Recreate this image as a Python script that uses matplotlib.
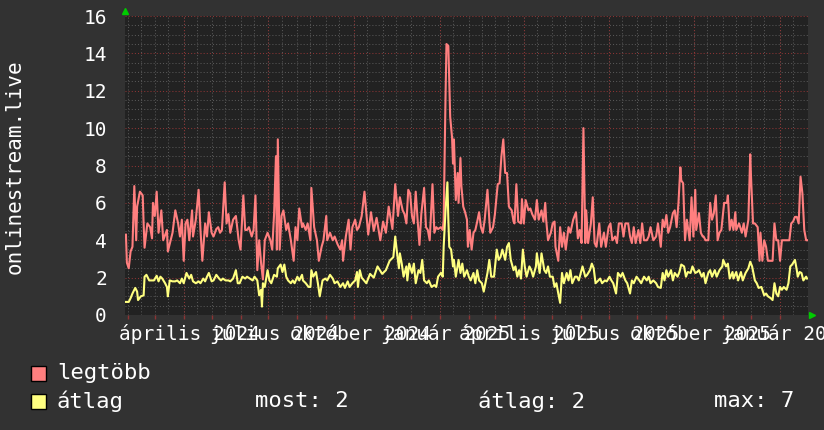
import numpy as np
import pandas as pd
import matplotlib
matplotlib.use("Agg")
import matplotlib.pyplot as plt
import matplotlib.dates as mdates
import matplotlib.transforms as mtransforms
from matplotlib.patches import Rectangle

# ---- data ----
START = "2024-01-29"
SPAN_DAYS = 733

# "legtöbb" (max) series: day offset from START, value
max_days = [1, 2, 4, 6, 8, 10, 12, 13, 16, 19, 20, 21, 24, 27, 29, 30, 32, 34, 36, 39,
            41, 45, 46, 49, 51, 54, 57, 59, 61, 63, 65, 67, 69, 72, 73, 76, 79, 81, 83, 86,
            88, 90, 93, 95, 98, 100, 102, 104, 107, 109, 111, 113, 116, 119, 122, 124, 127, 129, 131, 133,
            136, 138, 140, 142, 144, 146, 148, 150, 153, 156, 158, 160, 162, 163, 164, 166, 168, 170, 173, 175,
            178, 181, 183, 185, 187, 190, 191, 194, 196, 199, 200, 203, 206, 208, 211, 213, 216, 217, 220, 223,
            225, 228, 231, 233, 234, 237, 240, 242, 244, 247, 249, 251, 254, 257, 261, 264, 267, 270, 274, 277,
            280, 283, 287, 290, 293, 295, 298, 300, 302, 304, 306, 308, 310, 312, 314, 316, 318, 321, 323, 325,
            327, 330, 332, 334, 336, 339, 341, 342, 344, 345, 347, 349, 351, 352, 353, 355, 357, 358, 360, 361,
            363, 365, 367, 368, 370, 372, 374, 376, 378, 380, 382, 384, 386, 389, 391, 392, 395, 397, 400, 402,
            404, 406, 408, 410, 412, 415, 417, 418, 420, 422, 425, 426, 428, 430, 433, 435, 437, 440, 442, 444,
            447, 449, 451, 452, 454, 457, 459, 461, 462, 465, 467, 469, 471, 473, 476, 478, 481, 484, 486, 488,
            490, 492, 494, 495, 497, 500, 502, 504, 506, 509, 511, 514, 516, 519, 521, 523, 526, 528, 530, 533,
            535, 537, 540, 542, 544, 546, 548, 551, 553, 555, 557, 560, 562, 564, 567, 570, 572, 575, 577, 579,
            581, 583, 585, 588, 590, 592, 594, 596, 597, 599, 601, 603, 606, 608, 610, 612, 613, 616, 618, 620,
            621, 623, 626, 628, 630, 632, 634, 636, 638, 640, 643, 646, 647, 649, 651, 653, 655, 656, 659, 662,
            664, 666, 669, 671, 672, 674, 676, 679, 681, 682, 684, 686, 688, 690, 695, 697, 699, 701, 703, 705,
            713, 715, 717, 719, 721, 723, 725, 727, 729, 731, 732]
max_vals = [4.3, 2.8, 2.5, 3.4, 3.65, 6.9, 4.0, 5.8, 6.6, 6.4, 4.9, 3.6, 4.9, 4.7, 4.1, 6.0, 5.3, 6.6, 4.4, 5.6,
            4.0, 4.55, 3.4, 4.0, 4.4, 5.6, 4.9, 4.2, 5.1, 2.9, 4.9, 5.1, 4.0, 5.6, 4.2, 5.1, 6.7, 4.55, 2.9, 4.9,
            4.2, 5.5, 4.4, 4.2, 4.6, 4.7, 4.4, 4.55, 7.1, 4.9, 5.4, 4.4, 5.1, 5.3, 4.0, 3.5, 6.4, 4.55, 4.55, 4.7,
            4.2, 4.55, 6.4, 2.4, 4.0, 2.8, 1.9, 4.0, 4.4, 4.0, 3.5, 5.4, 8.5, 3.5, 9.4, 3.5, 5.3, 5.6, 4.55, 4.9,
            4.0, 2.9, 4.7, 4.0, 5.7, 4.7, 4.9, 4.55, 4.9, 4.0, 6.8, 4.7, 4.0, 2.9, 3.65, 4.0, 5.3, 4.0, 4.4, 4.0,
            4.2, 3.8, 3.5, 4.0, 2.9, 4.2, 5.1, 3.5, 4.7, 5.1, 4.55, 4.7, 5.3, 6.6, 4.3, 5.5, 4.5, 5.2, 4.0, 5.0,
            4.4, 5.8, 4.6, 7.0, 5.3, 6.3, 5.6, 5.4, 4.9, 6.7, 6.5, 5.3, 4.9, 6.6, 5.1, 3.75, 5.4, 6.8, 4.7, 4.55,
            4.0, 7.0, 4.4, 4.7, 4.6, 4.7, 4.55, 5.1, 11.7, 14.5, 14.4, 10.6, 9.5, 8.1, 9.4, 6.15, 7.6, 6.0, 8.4, 6.9,
            5.8, 5.5, 5.1, 3.65, 4.55, 3.5, 4.4, 4.55, 5.0, 5.5, 4.7, 4.4, 5.1, 6.7, 5.1, 4.4, 4.7, 5.4, 7.0, 7.05,
            8.5, 9.4, 7.6, 7.6, 5.8, 5.6, 5.0, 4.9, 7.0, 5.0, 4.9, 6.2, 4.9, 6.15, 5.6, 5.7, 5.4, 5.1, 6.15, 5.1,
            5.6, 5.0, 6.0, 5.1, 4.0, 4.4, 4.9, 5.0, 3.65, 2.9, 4.7, 3.65, 4.4, 3.5, 4.7, 4.4, 5.1, 5.5, 4.1, 4.55,
            3.85, 10.0, 3.85, 5.6, 3.85, 4.9, 6.3, 3.85, 3.65, 4.9, 3.65, 4.4, 3.65, 4.7, 4.9, 4.0, 4.2, 3.85, 4.9, 4.9,
            4.2, 4.9, 4.9, 4.2, 3.85, 4.7, 3.85, 4.55, 3.85, 4.9, 4.0, 4.0, 4.2, 4.7, 4.0, 4.2, 4.9, 3.65, 5.1, 4.7,
            5.35, 4.4, 4.7, 5.45, 5.6, 4.7, 6.0, 7.9, 7.2, 7.05, 4.0, 5.1, 4.0, 6.3, 4.2, 6.7, 4.55, 5.45, 4.4, 4.2,
            4.2, 4.0, 4.0, 6.0, 5.1, 5.45, 6.4, 4.0, 4.4, 4.55, 6.0, 6.0, 6.4, 4.55, 5.1, 4.55, 5.5, 4.55, 4.9, 4.4,
            4.9, 4.2, 5.1, 8.6, 7.2, 4.9, 4.9, 4.7, 2.9, 4.4, 2.9, 4.0, 3.65, 2.9, 2.9, 4.9, 4.0, 4.0, 2.9, 4.0,
            4.0, 4.9, 5.0, 5.25, 5.25, 4.9, 7.4, 6.5, 4.55, 4.0, 4.0]

# "átlag" (average) series
avg_days = [1, 4, 6, 8, 11, 13, 14, 17, 20, 21, 23, 26, 29, 31, 34, 36, 38, 40, 43, 45,
            46, 48, 51, 54, 56, 59, 61, 63, 66, 69, 71, 73, 76, 79, 81, 84, 86, 88, 90, 93,
            95, 98, 101, 103, 105, 108, 111, 113, 116, 119, 121, 123, 126, 129, 131, 134, 137, 139, 142, 144,
            146, 147, 148, 150, 153, 155, 157, 160, 163, 164, 167, 169, 171, 173, 175, 178, 180, 182, 185, 187,
            190, 191, 194, 197, 199, 200, 202, 205, 207, 209, 212, 215, 217, 220, 223, 225, 228, 231, 234, 236,
            239, 241, 244, 247, 249, 250, 252, 254, 259, 263, 267, 271, 276, 280, 284, 288, 290, 292, 294, 295,
            297, 299, 302, 303, 305, 308, 310, 312, 315, 317, 319, 321, 324, 326, 329, 332, 334, 336, 339, 341,
            342, 344, 346, 347, 348, 350, 352, 353, 355, 358, 360, 362, 364, 367, 369, 371, 374, 376, 378, 380,
            383, 385, 386, 389, 391, 393, 396, 399, 401, 403, 405, 408, 410, 412, 414, 417, 419, 421, 423, 425,
            427, 429, 431, 434, 436, 438, 441, 442, 445, 447, 450, 452, 454, 456, 459, 461, 463, 465, 467, 469,
            471, 474, 476, 478, 480, 483, 485, 487, 491, 494, 496, 499, 501, 503, 505, 508, 510, 512, 515, 517,
            520, 522, 524, 527, 529, 532, 534, 537, 539, 542, 544, 546, 549, 552, 554, 557, 560, 562, 564, 567,
            570, 572, 575, 577, 579, 581, 583, 586, 588, 590, 593, 595, 597, 600, 602, 604, 607, 609, 612, 614,
            616, 619, 621, 623, 626, 628, 630, 633, 635, 638, 641, 642, 645, 647, 649, 652, 653, 656, 658, 661,
            663, 666, 669, 671, 673, 676, 678, 680, 683, 686, 688, 690, 693, 695, 697, 699, 701, 703, 705, 707,
            710, 712, 714, 716, 719, 721, 722, 724, 726, 728, 731, 732]
avg_vals = [0.7, 0.7, 0.9, 1.15, 1.45, 1.25, 0.8, 1.0, 1.05, 2.05, 2.15, 1.85, 1.85, 1.85, 2.1, 1.8, 2.05, 1.95, 1.7, 1.5,
            1.0, 1.85, 1.8, 1.8, 1.85, 1.7, 1.95, 1.7, 2.25, 1.95, 2.15, 1.8, 1.7, 1.8, 1.7, 1.95, 1.8, 2.05, 2.25, 1.8,
            1.85, 2.15, 1.95, 1.85, 1.95, 1.85, 1.85, 1.8, 1.95, 2.4, 1.7, 1.7, 2.05, 1.95, 2.05, 1.95, 1.85, 2.05, 1.85, 1.05,
            1.35, 0.45, 1.7, 1.5, 2.4, 1.85, 1.7, 2.15, 2.05, 2.5, 2.7, 2.3, 2.7, 2.05, 1.85, 1.7, 1.85, 1.7, 2.05, 1.85,
            2.15, 1.85, 1.7, 1.5, 1.5, 2.4, 2.05, 2.3, 1.7, 1.0, 1.85, 1.95, 1.85, 2.15, 1.95, 1.7, 1.8, 1.5, 1.7, 1.45,
            1.8, 1.5, 1.7, 1.85, 2.3, 1.5, 2.4, 2.0, 1.7, 2.2, 2.0, 2.6, 2.2, 2.4, 2.9, 3.1, 4.2, 3.3, 2.5, 3.3,
            2.75, 2.05, 2.6, 1.85, 2.75, 2.25, 2.75, 1.7, 2.4, 2.25, 2.95, 1.85, 1.7, 1.85, 1.5, 1.6, 1.5, 2.05, 2.25, 2.05,
            3.65, 5.6, 7.1, 5.1, 3.65, 3.5, 2.6, 2.95, 2.05, 2.95, 2.25, 2.75, 2.05, 2.4, 2.05, 1.85, 2.25, 1.7, 2.4, 1.85,
            1.7, 1.25, 1.5, 2.25, 2.95, 2.05, 2.05, 3.5, 2.95, 3.1, 3.5, 2.95, 3.65, 3.85, 2.95, 2.4, 2.6, 2.05, 2.4, 1.95,
            3.5, 2.6, 2.05, 2.6, 2.4, 2.05, 2.6, 3.3, 2.25, 3.3, 2.4, 2.25, 2.6, 2.05, 2.05, 1.5, 1.7, 1.15, 0.65, 2.25,
            1.7, 2.25, 1.85, 2.4, 1.7, 2.05, 2.05, 1.85, 2.6, 2.05, 2.15, 2.4, 2.75, 2.5, 1.7, 1.85, 1.95, 1.7, 1.85, 1.8,
            2.05, 1.85, 1.7, 1.15, 2.25, 2.05, 2.25, 1.85, 1.7, 1.15, 1.85, 1.7, 2.05, 1.85, 1.7, 2.05, 1.85, 2.05, 1.7, 1.85,
            1.7, 1.5, 1.45, 2.25, 1.85, 2.4, 2.05, 2.4, 1.85, 2.25, 2.05, 2.3, 2.7, 2.6, 2.05, 2.3, 2.25, 2.6, 2.25, 2.3,
            2.4, 2.05, 2.25, 1.7, 2.25, 2.4, 2.05, 2.4, 2.05, 2.4, 2.6, 2.95, 2.6, 2.75, 1.95, 2.3, 1.95, 2.3, 1.85, 2.3,
            1.85, 2.25, 2.5, 2.85, 2.6, 1.85, 1.7, 1.45, 1.5, 1.05, 1.15, 1.0, 0.9, 0.8, 1.7, 1.15, 1.0, 1.5, 1.35, 1.5,
            1.35, 1.7, 2.6, 2.7, 2.95, 2.4, 2.05, 2.3, 2.25, 1.85, 2.05, 1.95]

x_tick_labels = ["április 2024", "július 2024", "október 2024", "január 2025",
                 "április 2025", "július 2025", "október 2025", "január 2026"]
y_ticks = [0, 2, 4, 6, 8, 10, 12, 14, 16]

legend_names = ["legtöbb", "átlag"]
stats = ["most: 2", "átlag: 2", "max: 7"]

# ---- colours ----
BG = "#323232"
PLOT_BG = "#222222"
GRID = "#575757"
MGRID = "#8c3434"
PINK = "#ff7f7f"
YELLOW = "#ffff80"
TXT = "#ffffff"

plt.rcParams["font.family"] = ["DejaVu Sans Mono"]

fig = plt.figure(figsize=(8.24, 4.30), dpi=100, facecolor=BG)
ax = fig.add_axes([125 / 824, 115 / 430, 683 / 824, 299 / 430])
ax.set_facecolor(PLOT_BG)

x0 = mdates.date2num(pd.Timestamp(START))
ax.set_xlim(x0, x0 + SPAN_DAYS)
ax.set_ylim(0, 16)

# grid, rrdtool style
end = pd.Timestamp(START) + pd.Timedelta(days=SPAN_DAYS)
for d in pd.date_range(START, end, freq="SMS"):
    ax.axvline(mdates.date2num(d), color=GRID, lw=0.75, ls=(0, (1, 2)), zorder=1)
quarters = pd.date_range(START, end, freq="QS")
for d in quarters:
    ax.axvline(mdates.date2num(d), color=MGRID, lw=0.75, ls=(0, (1, 2)), zorder=1)
for y in np.arange(0.5, 16, 0.5):
    if y % 2:
        ax.axhline(y, color=GRID, lw=0.75, ls=(0, (1, 2)), zorder=1)
for y in y_ticks[1:]:
    ax.axhline(y, color=MGRID, lw=0.75, ls=(0, (1, 2)), zorder=1)

months = mdates.date2num(pd.date_range(START, end, freq="MS"))
ax.vlines(months, -0.22, 0, color=MGRID, lw=1, clip_on=False, zorder=2)

ax.plot(x0 + np.array(max_days), max_vals, color=PINK, lw=1.5, zorder=3)
ax.plot(x0 + np.array(avg_days), avg_vals, color=YELLOW, lw=1.5, zorder=4)

for s in ax.spines.values():
    s.set_visible(False)

ax.set_yticks(y_ticks)
ax.tick_params(axis="y", length=0, pad=13, labelsize=14, labelcolor=TXT)
ax.set_xticks(mdates.date2num(quarters), x_tick_labels)
ax.tick_params(axis="x", length=0, pad=18, labelsize=14, labelcolor=TXT)
shift = mtransforms.ScaledTranslation(6 / 100, 0, fig.dpi_scale_trans)
for lbl in ax.get_xticklabels():
    lbl.set_verticalalignment("baseline")
    lbl.set_transform(lbl.get_transform() + shift)

# little green arrows at the axis ends
up = mtransforms.offset_copy(ax.transAxes, fig=fig, x=0, y=5, units="dots")
ax.plot([0], [1], marker="^", ms=5, color="#00cc00", transform=up, clip_on=False)
right = mtransforms.offset_copy(ax.transAxes, fig=fig, x=4, y=0, units="dots")
ax.plot([1], [0], marker=">", ms=5, color="#00cc00", transform=right, clip_on=False)

fig.text(15 / 824, 1 - 167 / 430, "onlinestream.live", rotation=90,
         ha="center", va="center", fontsize=15, color=TXT)

# legend
for i, (name, col) in enumerate(zip(legend_names, [PINK, YELLOW])):
    yc = 373 + i * 28
    fig.patches.append(Rectangle((31 / 824, 1 - (yc + 8) / 430), 15 / 824, 15 / 430,
                                 transform=fig.transFigure, facecolor=col,
                                 edgecolor="black", lw=1))
    fig.text(57 / 824, 1 - yc / 430, name, ha="left", va="center",
             fontsize=16, color=TXT)
for txt, xp in zip(stats, [255, 478, 714]):
    fig.text(xp / 824, 1 - 401 / 430, txt, ha="left", va="center",
             fontsize=16, color=TXT)

fig.savefig("out.png", dpi=100, facecolor=BG)
